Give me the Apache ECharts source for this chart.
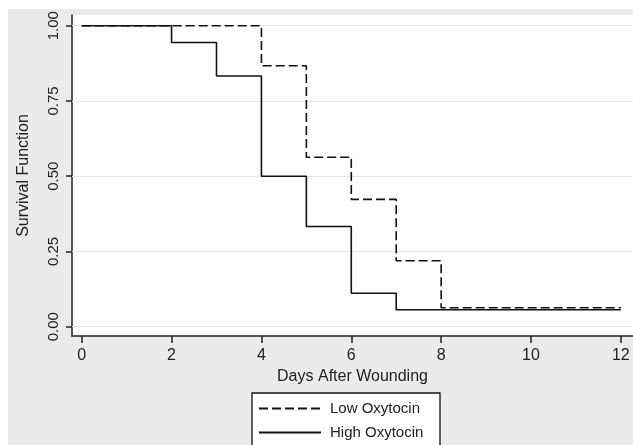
<!DOCTYPE html>
<html>
<head>
<meta charset="utf-8">
<script src="https://cdn.jsdelivr.net/npm/echarts@6/dist/echarts.min.js"></script>
<style>
html,body{margin:0;padding:0;background:#fff;}
#chart{width:633px;height:445px;}
</style>
</head>
<body>
<div id="chart"></div>
<script>
const seriesNames = ['Low Oxytocin', 'High Oxytocin'];
const lowDays = [0, 4, 5, 6, 7, 8, 12];
const lowSurv = [1.0, 0.867, 0.563, 0.423, 0.219, 0.063, 0.063];
const highDays = [0, 2, 3, 4, 5, 6, 7, 12];
const highSurv = [1.0, 0.944, 0.833, 0.5, 0.333, 0.111, 0.056, 0.056];
const xTicks = [0, 2, 4, 6, 8, 10, 12];
const yTicks = [0, 0.25, 0.5, 0.75, 1.0];
const xTitle = 'Days After Wounding';
const yTitle = 'Survival Function';

const pairs = (xs, ys) => xs.map((x, i) => [x, ys[i]]);
const FONT = '"Liberation Sans", Arial, sans-serif';
const INK = '#222';

const chart = echarts.init(document.getElementById('chart'), null, {renderer: 'canvas'});
chart.setOption({
  animation: false,
  backgroundColor: '#ffffff',
  textStyle: {fontFamily: FONT},
  graphic: [
    {type: 'rect', z: -10, shape: {x: 8, y: 9, width: 625, height: 436}, style: {fill: '#ebebeb'}},
    {type: 'rect', z: 10, shape: {x: 252, y: 393, width: 188, height: 60}, style: {fill: '#ffffff', stroke: '#111', lineWidth: 1.3}}
  ],
  grid: {
    left: 72, top: 15, right: 0, bottom: 109,
    show: true, backgroundColor: '#ffffff', borderWidth: 0
  },
  xAxis: {
    type: 'value',
    min: -0.216, max: 12.27,
    name: xTitle, nameLocation: 'middle', nameGap: 29,
    nameTextStyle: {fontSize: 16, color: INK, fontFamily: FONT},
    axisLine: {show: true, onZero: false, lineStyle: {color: INK, width: 1.5}},
    axisTick: {show: true, length: 7, customValues: xTicks, lineStyle: {color: INK, width: 1.5}},
    axisLabel: {customValues: xTicks, fontSize: 16, color: INK, margin: 12, fontFamily: FONT,
      formatter: v => String(v)},
    splitLine: {show: false}
  },
  yAxis: {
    type: 'value',
    min: -0.031, max: 1.0355,
    name: yTitle, nameLocation: 'middle', nameGap: 40, nameRotate: 90,
    nameTextStyle: {fontSize: 16, color: INK, fontFamily: FONT},
    axisLine: {show: true, onZero: false, lineStyle: {color: INK, width: 1.5}},
    axisTick: {show: true, length: 6, customValues: yTicks, lineStyle: {color: INK, width: 1.5}},
    axisLabel: {customValues: yTicks, fontSize: 15, color: INK, margin: 11, rotate: 90, fontFamily: FONT,
      formatter: v => Number(v).toFixed(2)},
    splitLine: {show: false}
  },
  legend: {
    left: 258, top: 401, orient: 'vertical',
    itemWidth: 62, itemHeight: 14, itemGap: 9,
    padding: 0,
    itemStyle: {opacity: 0, borderWidth: 0},
    textStyle: {fontSize: 15, color: INK, fontFamily: FONT, padding: [0, 0, 0, 4]},
    z: 20,
    data: seriesNames
  },
  series: [
    {
      name: seriesNames[0], type: 'line', step: 'end', symbol: 'none',
      data: pairs(lowDays, lowSurv),
      lineStyle: {color: '#111', width: 1.6, type: [9, 4]},
      itemStyle: {color: '#111'},
      z: 3,
      markLine: {
        silent: true, symbol: 'none', label: {show: false}, z: 1,
        lineStyle: {color: '#e6e6e6', width: 1.2, type: 'solid'},
        data: yTicks.map(v => ({yAxis: v}))
      }
    },
    {
      name: seriesNames[1], type: 'line', step: 'end', symbol: 'none',
      data: pairs(highDays, highSurv),
      lineStyle: {color: '#111', width: 1.6, type: 'solid'},
      itemStyle: {color: '#111'},
      z: 4
    }
  ]
});
</script>
</body>
</html>
